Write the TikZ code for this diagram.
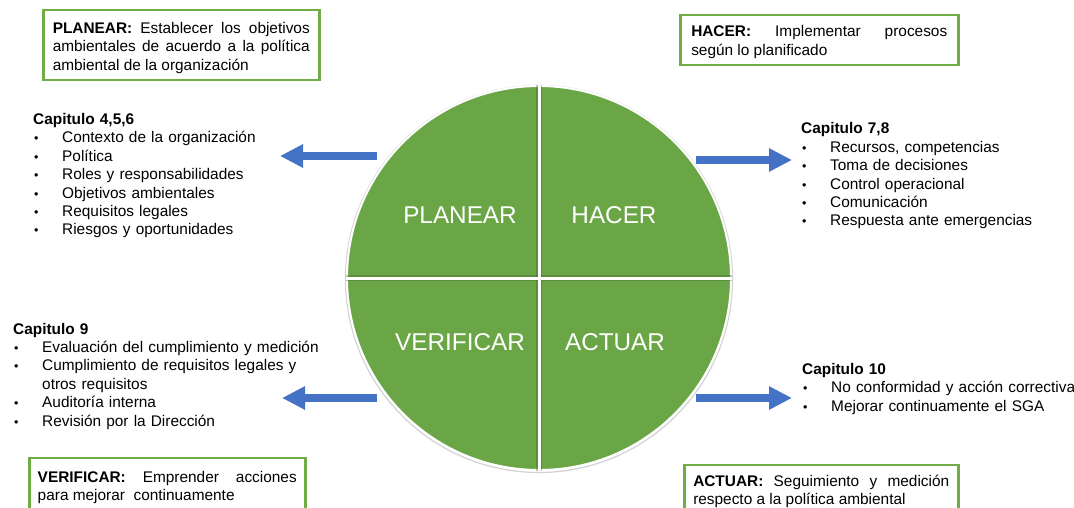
\documentclass[tikz,border=0pt]{standalone}
\usepackage{fontspec}
\setmainfont{Liberation Sans}
\usetikzlibrary{arrows.meta}
\definecolor{pdcagreen}{RGB}{107,166,70}
\definecolor{boxgreen}{RGB}{112,173,71}
\definecolor{arrowblue}{RGB}{68,114,196}
\newlength\bulind
\setlength\bulind{29pt}
\newcommand\itm[1]{\makebox[\bulind][l]{\hspace{1pt}{\fontsize{12.5}{12.5}\selectfont •}}#1}
\newcommand\cont{\hspace*{\bulind}}
\begin{document}
\begin{tikzpicture}[x=1pt,y=-1pt,
  txt/.style={font={\fontsize{15.4}{18.4}\selectfont\tolerance=9999\hyphenpenalty=10000}},
  listnode/.style={txt, inner sep=0pt, anchor=base west, text width=380pt, align=left},
  infobox/.style={txt, draw=boxgreen, line width=2.5pt, anchor=base west, align=justify, inner ysep=6.7pt},
  quad/.style={text=white, font=\fontsize{24.3}{29}\selectfont, anchor=base, inner sep=0pt},
  bigarrow/.style={draw=arrowblue, line width=8pt, -{Triangle[length=23pt,width=22pt]}}
]
\useasboundingbox (0,0) rectangle (1074,508);
\fill[white] (0,0) rectangle (1074,508);

% PDCA circle
\draw[gray!35, line width=1.2pt] (539,279) circle (193.5pt);
\node[circle, minimum size=384pt, inner sep=0pt, fill=pdcagreen, draw=white, line width=2pt] (pdca) at (539,278) {};
\draw[pdcagreen!60!black, opacity=.35, line width=6pt] (pdca.north) -- (pdca.south);
\draw[pdcagreen!60!black, opacity=.35, line width=6pt] (pdca.west) -- (pdca.east);
\draw[white, line width=3pt] (pdca.north) -- (pdca.south);
\draw[white, line width=3pt] (pdca.west) -- (pdca.east);

\node[quad] (qplan) at (460,223.3) {PLANEAR};
\node[quad] (qhacer) at (614,223.3) {HACER};
\node[quad] (qverif) at (460,350.7) {VERIFICAR};
\node[quad] (qactuar) at (615,350.7) {ACTUAR};

% arrows
\coordinate (a1s) at (377,156); \coordinate (a1e) at (280,156);
\coordinate (a2s) at (696,160); \coordinate (a2e) at (792,160);
\coordinate (a3s) at (377,398); \coordinate (a3e) at (282,398);
\coordinate (a4s) at (696,398); \coordinate (a4e) at (792,398);
\draw[bigarrow] (a1s) -- (a1e);
\draw[bigarrow] (a2s) -- (a2e);
\draw[bigarrow] (a3s) -- (a3e);
\draw[bigarrow] (a4s) -- (a4e);

% info boxes
\node[infobox, inner xsep=9.5pt, text width=257pt] (bplan) at (42,33.3)
  {\rule{0pt}{16.6pt}\textbf{PLANEAR:} Establecer los objetivos\linebreak ambientales de acuerdo a la política\linebreak ambiental de la organización};
\node[infobox, inner xsep=11pt, text width=256pt] (bhacer) at (679,36.7)
  {\rule{0pt}{15pt}\textbf{HACER:} Implementar procesos\linebreak según lo planificado};
\node[infobox, inner xsep=8.5pt, text width=259pt] (bverif) at (28,482)
  {\rule{0pt}{17.3pt}\textbf{VERIFICAR:} Emprender acciones\linebreak para mejorar~ continuamente};
\node[infobox, inner xsep=9pt, text width=256pt] (bactuar) at (683,486)
  {\rule{0pt}{14.3pt}\textbf{ACTUAR:} Seguimiento y medición\linebreak respecto a la política ambiental};

% lists
\node[listnode] (cap456) at (33,124.5) {\textbf{Capitulo 4,5,6}\\
  \itm{Contexto de la organización}\\
  \itm{Política}\\
  \itm{Roles y responsabilidades}\\
  \itm{Objetivos ambientales}\\
  \itm{Requisitos legales}\\
  \itm{Riesgos y oportunidades}};
\node[listnode] (cap78) at (801,134) {\textbf{Capitulo 7,8}\\
  \itm{Recursos, competencias}\\
  \itm{Toma de decisiones}\\
  \itm{Control operacional}\\
  \itm{Comunicación}\\
  \itm{Respuesta ante emergencias}};
\node[listnode] (cap9) at (13,334) {\textbf{Capitulo 9}\\
  \itm{Evaluación del cumplimiento y medición}\\
  \itm{Cumplimiento de requisitos legales y}\\
  \cont otros requisitos\\
  \itm{Auditoría interna}\\
  \itm{Revisión por la Dirección}};
\node[listnode] (cap10) at (802,374.5) {\textbf{Capitulo 10}\\
  \itm{No conformidad y acción correctiva}\\
  \itm{Mejorar continuamente el SGA}};
\end{tikzpicture}
\end{document}
